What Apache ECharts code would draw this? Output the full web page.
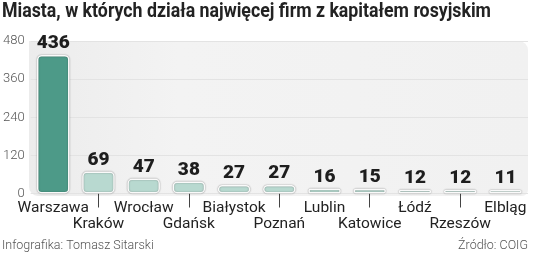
<!DOCTYPE html>
<html><head><meta charset="utf-8">
<script src="https://cdn.jsdelivr.net/npm/echarts@6/dist/echarts.min.js"></script>
<style>html,body{margin:0;padding:0;background:#fff}#c{width:536px;height:256px}</style>
</head><body><div id="c"></div>
<script>
const title = 'Miasta, w których działa najwięcej firm z kapitałem rosyjskim';
const categories = ['Warszawa','Kraków','Wrocław','Gdańsk','Białystok','Poznań','Lublin','Katowice','Łódź','Rzeszów','Elbląg'];
const values = [436, 69, 47, 38, 27, 27, 16, 15, 12, 12, 11];
const yTicks = [0, 120, 240, 360, 480];
const creditLeft = 'Infografika: Tomasz Sitarski';
const creditRight = 'Źródło: COIG';

const titleFont = 'bold 20px Roboto';
const cv = document.createElement('canvas').getContext('2d');
cv.font = titleFont;
const titleW = cv.measureText(title).width;
const titleScale = Math.min(1, 489 / titleW);

const chart = echarts.init(document.getElementById('c'), null, {renderer:'canvas'});
const grid = {left:29, right:8, top:41, bottom:62.5};
chart.setOption({
  backgroundColor:'#fff',
  animation:false,
  graphic:[
    {type:'rect', z:-10, shape:{x:29, y:41, width:499, height:155, r:[0,9,6,9]},
     style:{fill:new echarts.graphic.LinearGradient(0,0,1,0,[{offset:0,color:'#ececec'},{offset:0.3,color:'#f3f3f3'},{offset:1,color:'#f1f1f1'}])}},
    {type:'text', x:2, y:2, scaleX:titleScale, style:{text:title, font:titleFont, fill:'#222'}},
    {type:'text', left:2, top:239, style:{text:creditLeft, font:'300 12.5px Roboto', fill:'#555'}},
    {type:'text', right:8, top:239, style:{text:creditRight, font:'300 12.5px Roboto', fill:'#555'}}
  ],
  grid:grid,
  xAxis:{type:'category', data:categories,
    axisLine:{show:false},
    axisTick:{show:true, alignWithLabel:true, length:14, lineStyle:{color:'#444'}, interval:(i)=>i%2===1},
    axisLabel:{interval:0, margin:7, fontFamily:'Roboto', fontSize:15.5, color:'#222', lineHeight:16,
      formatter:(v,i)=> i%2 ? '\n'+v : v}
  },
  yAxis:{type:'value', min:0, max:480, interval:120,
    axisLabel:{fontFamily:'Roboto', fontWeight:300, fontSize:13, color:'#555', margin:6,
      formatter:(v)=> yTicks.includes(v) ? String(v) : ''},
    splitLine:{lineStyle:{color:'#e3e3e3'}},
    axisLine:{show:false}, axisTick:{show:false}},
  series:[{type:'bar', data:values.map((v,i)=>({value:v, itemStyle:{color:i===0?'#4d9a88':'#b8d9d0'}})),
    barWidth:'72%',
    itemStyle:{borderRadius:4, borderColor:'#fafafa', borderWidth:1.5, shadowColor:'rgba(0,0,0,0.4)', shadowBlur:1.5},
    label:{show:true, position:'top', distance:2, fontFamily:'Roboto', fontWeight:900, fontSize:19, color:'#1e1e1e'}
  }]
});
</script></body></html>
